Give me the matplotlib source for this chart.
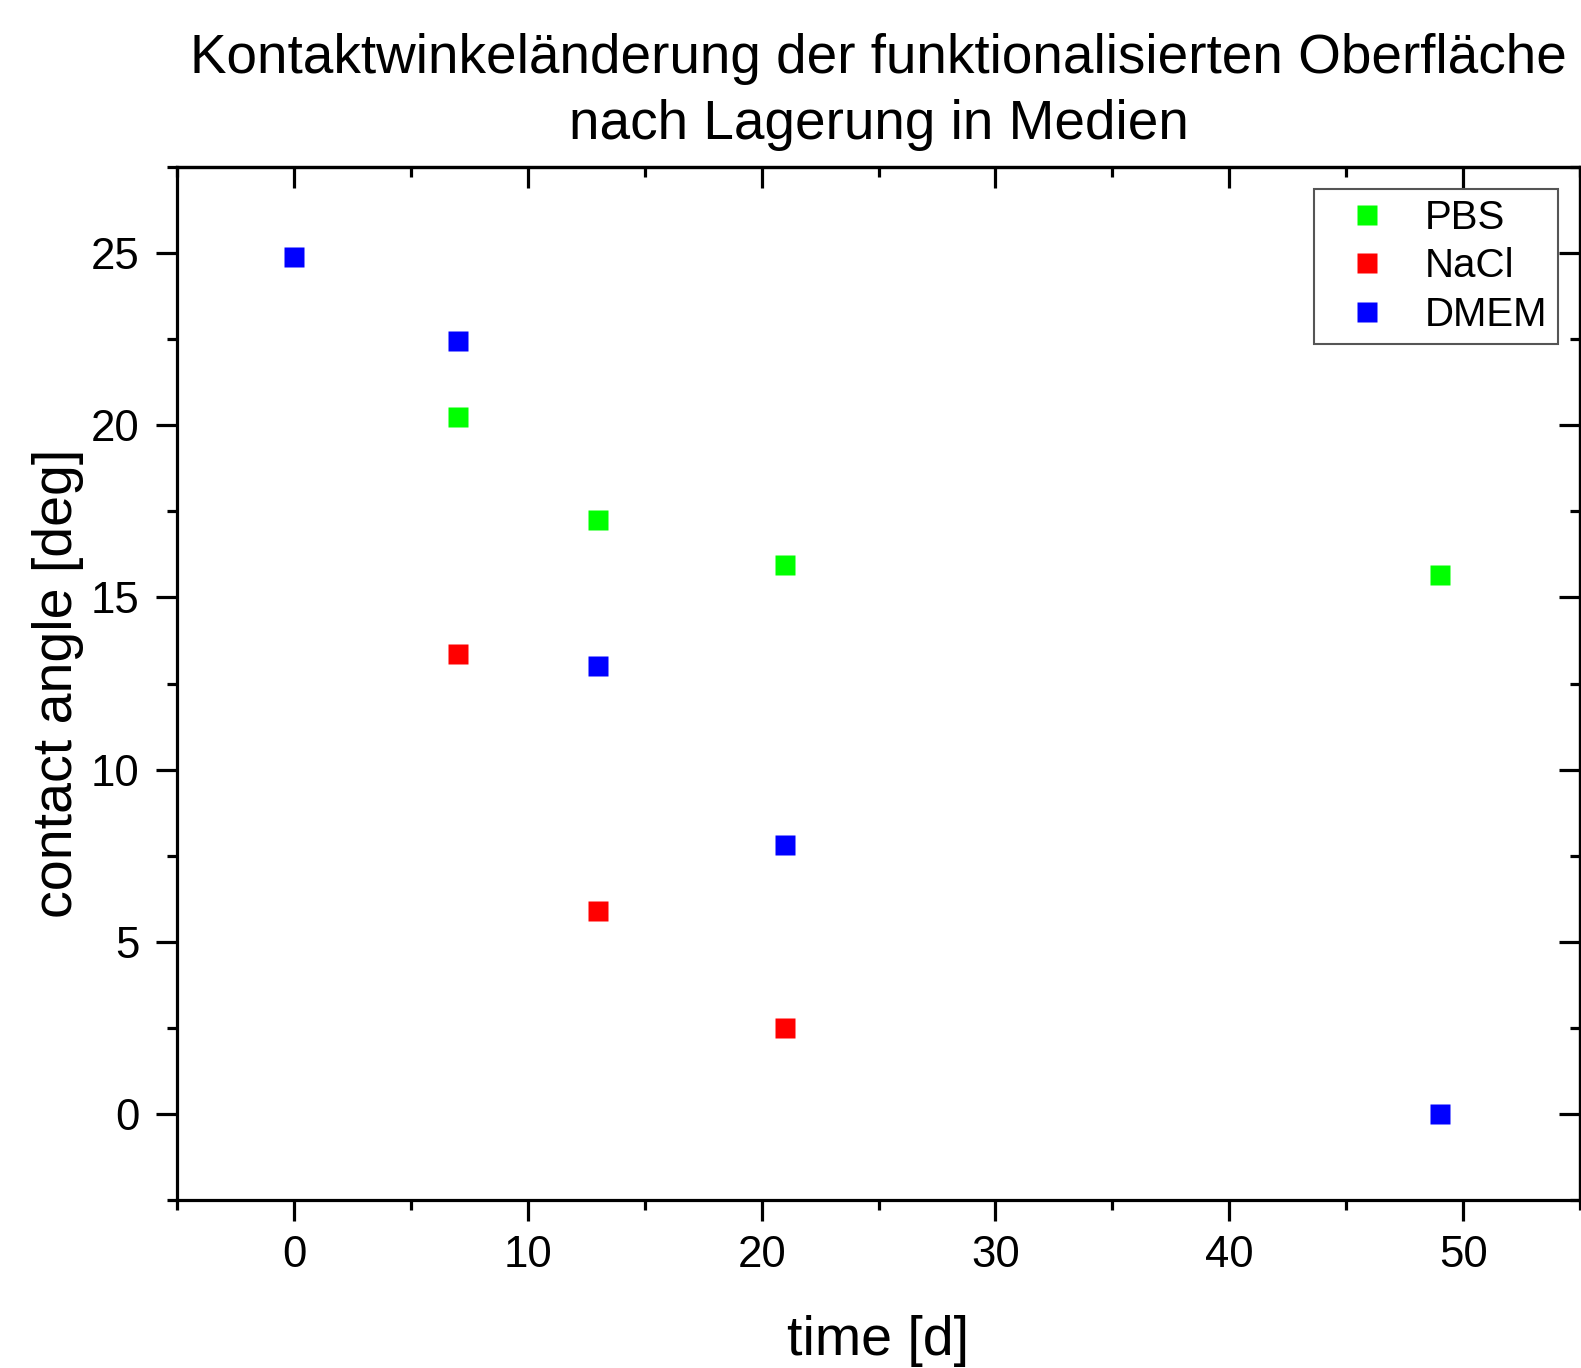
import matplotlib
matplotlib.use("Agg")
import matplotlib.pyplot as plt
from matplotlib.ticker import MultipleLocator

plt.rcParams['font.family'] = ['Liberation Sans', 'DejaVu Sans']

pbs_x = [7, 13, 21, 49]
pbs_y = [20.25, 17.25, 15.95, 15.65]
nacl_x = [7, 13, 21]
nacl_y = [13.35, 5.9, 2.5]
dmem_x = [0, 7, 13, 21, 49]
dmem_y = [24.9, 22.45, 13.0, 7.8, 0.0]

fig = plt.figure(figsize=(15.81, 13.68), dpi=100)
ax = fig.add_axes([0.112, 0.1228, 0.8874, 0.7551])

ms = 14
ax.plot(pbs_x, pbs_y, 's', color='#00ff00', ms=ms, mec='none', label='PBS')
ax.plot(nacl_x, nacl_y, 's', color='#ff0000', ms=ms, mec='none', label='NaCl')
ax.plot(dmem_x, dmem_y, 's', color='#0000ff', ms=ms, mec='none', label='DMEM')

ax.set_xlim(-5, 55)
ax.set_ylim(-2.5, 27.5)
ax.xaxis.set_major_locator(MultipleLocator(10))
ax.xaxis.set_minor_locator(MultipleLocator(5))
ax.yaxis.set_major_locator(MultipleLocator(5))
ax.yaxis.set_minor_locator(MultipleLocator(2.5))

for s in ax.spines.values():
    s.set_linewidth(2.3)

ax.tick_params(axis='both', which='major', length=15, width=2.3, labelsize=31.5, pad=10)
ax.tick_params(axis='both', which='minor', length=7, width=2.3)
ax.tick_params(axis='x', which='both', direction='out', top=False)
ax.tick_params(axis='y', which='both', direction='out', right=False)
ax.tick_params(axis='y', which='major', pad=12)

# inward ticks on top and right
axt = ax.secondary_xaxis('top')
axt.xaxis.set_major_locator(MultipleLocator(10))
axt.xaxis.set_minor_locator(MultipleLocator(5))
axt.tick_params(which='major', direction='in', length=15, width=2.3, labeltop=False)
axt.tick_params(which='minor', direction='in', length=7, width=2.3)
axt.spines['top'].set_linewidth(2.3)
axr = ax.secondary_yaxis('right')
axr.yaxis.set_major_locator(MultipleLocator(5))
axr.yaxis.set_minor_locator(MultipleLocator(2.5))
axr.tick_params(which='major', direction='in', length=15, width=2.3, labelright=False)
axr.tick_params(which='minor', direction='in', length=7, width=2.3)
axr.spines['right'].set_linewidth(2.3)

ax.set_xlabel('time [d]', fontsize=40, labelpad=28)
ax.set_ylabel('contact angle [deg]', fontsize=40, labelpad=5)
ax.set_title('Kontaktwinkeländerung der funktionalisierten Oberfläche\nnach Lagerung in Medien',
             fontsize=39.5, pad=20, linespacing=1.35)

leg = ax.legend(loc='upper right', bbox_to_anchor=(0.984, 0.979), fontsize=29,
                frameon=True, fancybox=False, edgecolor='#555555', framealpha=1,
                borderpad=0.25, labelspacing=0.26, handletextpad=0.4, handlelength=2.1,
                markerscale=1.0, borderaxespad=0)
leg.get_frame().set_linewidth(1.5)

fig.savefig('out.png', dpi=100)
